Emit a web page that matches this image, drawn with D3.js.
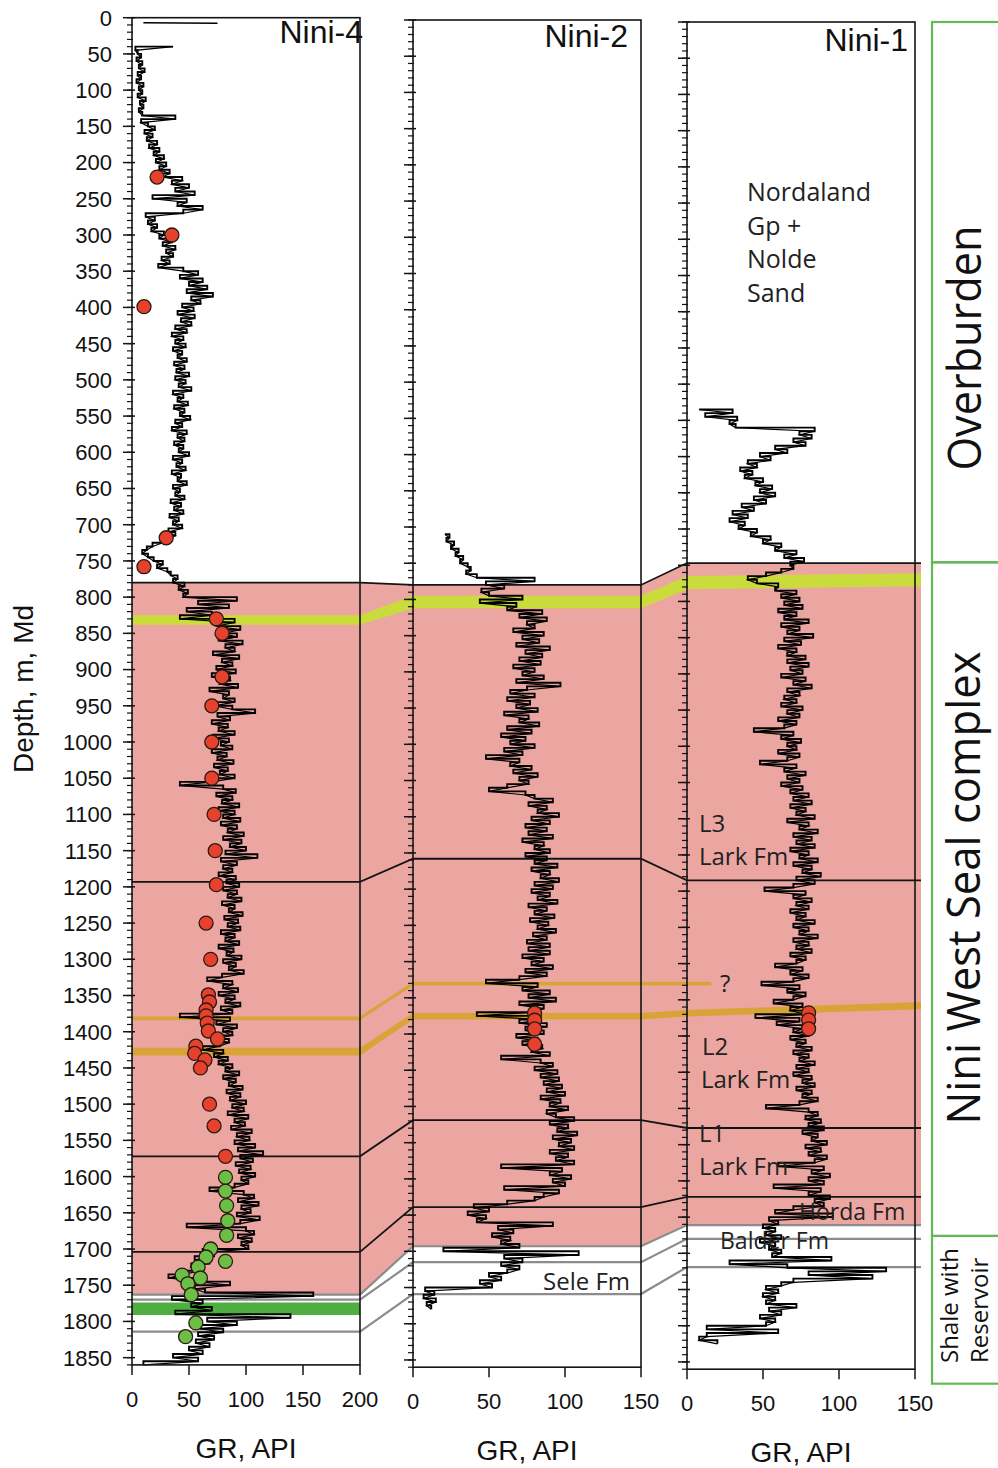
<!DOCTYPE html>
<html>
<head>
<meta charset="utf-8">
<script src="https://cdn.jsdelivr.net/npm/d3@7"></script>
<style>
  html, body { margin: 0; padding: 0; background: #ffffff; }
  svg { display: block; }
</style>
</head>
<body>
<svg id="chart" width="998" height="1468"></svg>
<script>
// ---------------- data ----------------
const wells = ["Nini-4", "Nini-2", "Nini-1"];
const grMax = [200, 150, 150];
const grTicks = [[0, 50, 100, 150, 200], [0, 50, 100, 150], [0, 50, 100, 150]];
const depthTicks = [0, 50, 100, 150, 200, 250, 300, 350, 400, 450, 500, 550, 600, 650, 700, 750,
  800, 850, 900, 950, 1000, 1050, 1100, 1150, 1200, 1250, 1300, 1350, 1400, 1450, 1500, 1550,
  1600, 1650, 1700, 1750, 1800, 1850];
const depthBottom = 1860;
const minorTickStep = 10;

// gamma-ray logs, one sample every 5 m from the first logged depth
const logStep = 5;
const nini4Start = 40;
const nini4GR = [
  36, 3, 5, 8, 4, 9, 6, 11, 5, 8, 4, 10, 6, 9, 5, 12, 7, 10, 6, 9,
  38, 8, 14, 20, 11, 18, 13, 22, 15, 24, 19, 28, 21, 30, 24, 33, 27, 44, 35, 50,
  38, 55, 18, 48, 40, 62, 45, 12, 20, 14, 22, 17, 28, 24, 35, 27, 38, 30, 36, 26,
  33, 23, 45, 58, 42, 62, 50, 66, 48, 71, 52, 60, 44, 54, 40, 55, 43, 52, 38, 48,
  35, 45, 38, 47, 36, 44, 40, 48, 37, 46, 39, 50, 38, 47, 41, 52, 36, 45, 40, 49,
  37, 46, 42, 51, 38, 44, 35, 48, 40, 46, 37, 45, 41, 50, 36, 44, 39, 47, 35, 43,
  40, 48, 36, 42, 38, 46, 34, 43, 37, 45, 33, 41, 36, 44, 32, 38, 30, 27, 18, 13,
  9, 14, 19, 27, 22, 31, 34, 40, 36, 46, 41, 49, 45, 92, 58, 85, 48, 70, 42, 90,
  74, 95, 80, 92, 76, 97, 82, 90, 71, 94, 79, 88, 74, 91, 70, 86, 77, 93, 68, 85,
  80, 90, 72, 88, 108, 75, 86, 70, 84, 76, 90, 71, 85, 78, 88, 70, 83, 75, 89, 72,
  84, 77, 90, 70, 42, 80, 91, 74, 88, 79, 94, 76, 90, 80, 95, 78, 92, 84, 98, 80,
  96, 86, 100, 82, 110, 78, 92, 80, 88, 76, 91, 83, 94, 80, 92, 84, 96, 79, 90, 85,
  97, 81, 93, 84, 95, 78, 90, 82, 94, 76, 89, 83, 96, 80, 91, 85, 98, 79, 66, 88,
  80, 93, 76, 90, 82, 95, 78, 88, 42, 86, 74, 92, 80, 88, 73, 85, 77, 62, 80, 72,
  84, 76, 88, 82, 94, 80, 91, 85, 97, 83, 95, 86, 100, 88, 98, 84, 102, 90, 99, 87,
  105, 92, 103, 90, 108, 93, 115, 95, 106, 91, 104, 94, 108, 96, 102, 90, 68, 98, 107, 93,
  111, 96, 104, 92, 112, 95, 48, 100, 107, 93, 105, 96, 102, 62, 72, 55, 68, 52, 60, 45,
  32, 58, 86, 55, 64, 159, 35, 62, 52, 70, 38, 139, 66, 92, 60, 80, 58, 72, 56, 68,
  50, 62, 36, 58, 10
];
// isolated reading near the top of Nini-4: [depth, GR]
const nini4Head = [[7, 10], [7.5, 75]];

const nini2Start = 710;
const nini2GR = [
  21, 24, 22, 27, 25, 30, 28, 33, 31, 36, 38, 35, 42, 80, 48, 60, 45, 50, 72, 44,
  68, 62, 85, 70, 88, 75, 80, 66, 86, 72, 83, 68, 90, 74, 85, 70, 84, 66, 80, 72,
  86, 68, 97, 75, 64, 80, 62, 77, 68, 82, 60, 76, 70, 83, 62, 78, 58, 74, 64, 80,
  60, 72, 48, 70, 64, 78, 66, 82, 70, 76, 62, 50, 74, 80, 92, 76, 88, 82, 96, 78,
  90, 74, 88, 76, 92, 72, 86, 80, 90, 74, 88, 80, 95, 78, 90, 84, 96, 80, 92, 78,
  90, 82, 95, 76, 88, 80, 93, 77, 89, 82, 94, 79, 88, 75, 90, 76, 90, 72, 86, 78,
  92, 74, 88, 70, 48, 82, 72, 90, 76, 94, 70, 86, 78, 42, 84, 70, 88, 74, 86, 68,
  82, 72, 85, 78, 90, 58, 84, 92, 80, 95, 84, 96, 86, 98, 88, 100, 84, 97, 90, 102,
  88, 94, 106, 90, 102, 95, 108, 92, 104, 96, 106, 90, 102, 94, 106, 58, 98, 90, 104, 92,
  100, 60, 96, 86, 80, 62, 40, 50, 36, 48, 42, 92, 56, 66, 52, 64, 58, 70, 20, 109,
  60, 72, 58, 70, 62, 50, 58, 44, 52, 8, 14, 7, 15, 9, 12
];

const nini1Start = 535;
const nini1GR = [
  8, 30, 12, 33, 28, 32, 84, 74, 82, 70, 78, 58, 66, 48, 55, 40, 46, 35, 43, 38,
  50, 45, 56, 48, 58, 44, 52, 36, 44, 30, 40, 28, 38, 34, 46, 42, 55, 50, 62, 58,
  72, 64, 77, 68, 70, 62, 52, 40, 46, 60, 58, 72, 62, 74, 64, 76, 60, 72, 64, 80,
  62, 74, 66, 83, 64, 75, 60, 72, 66, 78, 66, 80, 68, 76, 62, 78, 70, 82, 66, 74,
  64, 72, 62, 76, 66, 74, 60, 72, 64, 44, 70, 62, 75, 66, 72, 60, 74, 66, 48, 72,
  64, 78, 66, 74, 62, 76, 68, 80, 70, 82, 68, 78, 72, 84, 66, 80, 74, 86, 70, 82,
  72, 84, 68, 80, 74, 86, 70, 82, 76, 88, 72, 84, 70, 51, 78, 70, 82, 72, 80, 68,
  78, 72, 84, 70, 80, 74, 86, 70, 80, 72, 82, 68, 78, 72, 58, 76, 68, 80, 70, 49,
  74, 66, 78, 70, 57, 76, 68, 78, 45, 74, 59, 76, 70, 80, 68, 78, 72, 82, 70, 80,
  74, 84, 72, 80, 70, 82, 76, 84, 72, 82, 76, 86, 74, 52, 80, 86, 78, 88, 80, 90,
  76, 86, 82, 92, 78, 88, 80, 92, 84, 60, 90, 82, 94, 80, 90, 57, 88, 80, 94, 84,
  90, 70, 58, 96, 54, 60, 50, 58, 52, 62, 48, 58, 54, 62, 56, 95, 28, 66, 131, 80,
  122, 70, 62, 52, 60, 50, 58, 52, 72, 54, 62, 48, 58, 52, 13, 60, 13, 8, 20
];

// core sample GR readings: [depth m, GR API]
const nini4CoreRed = [[220, 22], [300, 35], [399, 10.5], [718, 30], [758, 10.5], [830, 74],
  [850, 79], [910, 79], [950, 70], [1000, 70], [1050, 70], [1100, 72], [1150, 73], [1197, 74],
  [1250, 65], [1300, 69], [1349, 67], [1359, 68], [1370, 65], [1378, 65], [1388, 66], [1399, 67],
  [1410, 75], [1420, 56], [1430, 55], [1439, 64], [1450, 60], [1500, 68], [1530, 72], [1572, 82]];
const nini4CoreGreen = [[1601, 82], [1620, 82], [1640, 83], [1661, 84], [1681, 83], [1700, 69],
  [1711, 65], [1717, 82], [1725, 58], [1736, 44], [1740, 60], [1748, 49], [1763, 52],
  [1802, 56], [1821, 47]];
const nini2CoreRed = [[1371, 80], [1381, 80], [1393, 80], [1414, 80]];
const nini1CoreRed = [[1368, 80], [1378, 80], [1390, 80]];

// correlated surfaces, depth in m for Nini-4, Nini-2, Nini-1
const topL3 = [780, 780, 747];
const topL2 = [1193, 1158, 1185];
const topL1 = [1572, 1519, 1527];
const topHorda = [1704, 1639, 1622];
const topBalder = [1763, 1693, 1661];
const topSele = [1770, 1715, 1680];
const baseSele = [1814, 1759, 1719];

// thin beds: [top, base] or [top left, base left, top right, base right]
const sandBed = [[825, 838], [795, 812], [765, 783, 761, 779]];
const upperStringer = [[1379, 1384], [1328, 1333], null];
const upperStringerEndGR = 16;
const lowerStringer = [[1422, 1433], [1371, 1380], [1364, 1373, 1353, 1363]];
const reservoirBed = [[1774, 1791], null, null];

// stratigraphic units on the right (depth on the Nini-1 scale)
const zoneNames = [["Overburden"], ["Nini West Seal complex"], ["Shale with", "Reservoir"]];
const zoneDepths = [[0, 746], [746, 1676], [1676, 1880]];

// ---------------- layout ----------------
const pxPerMetre = 0.7243;
const panels = [
  { x0: 132, x1: 360, xe: 360, top: 17.7, titleX: 363, titleY: 43 },
  { x0: 413, x1: 641, xe: 641, top: 20, titleX: 628, titleY: 47 },
  { x0: 687, x1: 915, xe: 921, top: 22, titleX: 908, titleY: 51 }
];
panels.forEach((p, i) => {
  p.y = d3.scaleLinear().domain([0, depthBottom]).range([p.top, p.top + depthBottom * pxPerMetre]);
  p.x = d3.scaleLinear().domain([0, grMax[i]]).range([p.x0, p.x1]);
  p.bottom = p.y(depthBottom);
});

const NUM_FONT = "'Liberation Sans', Arial, sans-serif";
const TXT_FONT = "'Open Sans', 'Noto Sans', sans-serif";
const COLORS = {
  seal: "#eca6a2",
  sand: "#c9dc3c",
  stringer: "#d8a438",
  reservoir: "#4fae42",
  red: "#e6412d",
  green: "#6cbf46",
  zone: "#63b957",
  black: "#141414",
  grey: "#8c8c8c"
};

const svg = d3.select("#chart");
const line = d3.line();

function surfacePoints(vals) {
  const pts = [];
  vals.forEach((v, i) => {
    if (v == null) return;
    const p = panels[i];
    const l = Array.isArray(v) ? v[0] : v;
    const r = Array.isArray(v) ? v[1] : v;
    pts.push([p.x0, p.y(l)], [p.xe, p.y(r)]);
  });
  return pts;
}

function bedPolygon(vals) {
  const top = [], base = [];
  vals.forEach((v, i) => {
    if (!v) return;
    const p = panels[i];
    const tl = v[0], bl = v[1];
    const tr = v.length > 2 ? v[2] : v[0];
    const br = v.length > 2 ? v[3] : v[1];
    top.push([p.x0, p.y(tl)], [p.xe, p.y(tr)]);
    base.push([p.x0, p.y(bl)], [p.xe, p.y(br)]);
  });
  return { top, base };
}

// ---- seal complex fill ----
{
  const top = surfacePoints(topL3);
  const base = surfacePoints(topBalder);
  svg.append("path")
    .attr("d", line(top.concat(base.slice().reverse())) + "Z")
    .attr("fill", COLORS.seal);
}

// ---- thin beds ----
function drawBed(vals, color, extendTo) {
  const { top, base } = bedPolygon(vals);
  if (extendTo != null) {
    top.push([extendTo, top[top.length - 1][1]]);
    base.push([extendTo, base[base.length - 1][1]]);
  }
  svg.append("path")
    .attr("d", line(top.concat(base.slice().reverse())) + "Z")
    .attr("fill", color);
}
drawBed(sandBed, COLORS.sand);
drawBed(upperStringer, COLORS.stringer, panels[2].x(upperStringerEndGR));
drawBed(lowerStringer, COLORS.stringer);
drawBed(reservoirBed, COLORS.reservoir);

// ---- correlation surfaces ----
[[topL3, COLORS.black, 1.8], [topL2, COLORS.black, 1.8], [topL1, COLORS.black, 1.8],
 [topHorda, COLORS.black, 1.8], [topBalder, COLORS.grey, 2.2], [topSele, COLORS.grey, 2.2],
 [baseSele, COLORS.grey, 2.2]].forEach(([vals, color, w]) => {
  svg.append("path")
    .attr("d", line(surfacePoints(vals)))
    .attr("fill", "none")
    .attr("stroke", color)
    .attr("stroke-width", w);
});

// ---- gamma-ray logs (blocky, one step per sample) ----
function logData(start, values) {
  return values.map((v, i) => ({ depth: start + i * logStep, gr: v }));
}
const logs = [logData(nini4Start, nini4GR), logData(nini2Start, nini2GR), logData(nini1Start, nini1GR)];
logs.forEach((data, i) => {
  const p = panels[i];
  svg.append("path")
    .datum(data)
    .attr("d", d3.line().curve(d3.curveStepAfter).x(d => p.x(d.gr)).y(d => p.y(d.depth)))
    .attr("fill", "none")
    .attr("stroke", "#000")
    .attr("stroke-width", 1.9);
  svg.append("path")
    .datum(data)
    .attr("d", d3.line().x(d => p.x(d.gr)).y(d => p.y(d.depth)))
    .attr("fill", "none")
    .attr("stroke", "#000")
    .attr("stroke-width", 1.2);
});
svg.append("path")
  .datum(nini4Head)
  .attr("d", d3.line().x(d => panels[0].x(d[1])).y(d => panels[0].y(d[0])))
  .attr("fill", "none")
  .attr("stroke", "#000")
  .attr("stroke-width", 1.5);

// ---- panel frames and axes ----
const minorTicks = d3.range(0, depthBottom + 1, minorTickStep);
panels.forEach((p, i) => {
  const g = svg.append("g");
  g.append("rect")
    .attr("x", p.x0).attr("y", p.top)
    .attr("width", p.x1 - p.x0).attr("height", p.bottom - p.top)
    .attr("fill", "none").attr("stroke", COLORS.black).attr("stroke-width", 1.6);

  // depth ticks on the left edge
  g.selectAll("line.minor").data(minorTicks).join("line")
    .attr("x1", p.x0 - 5).attr("x2", p.x0 + 1)
    .attr("y1", d => p.y(d)).attr("y2", d => p.y(d))
    .attr("stroke", COLORS.black).attr("stroke-width", 1.2);
  g.selectAll("line.major").data(depthTicks).join("line")
    .attr("x1", p.x0 - 9).attr("x2", p.x0 + 3)
    .attr("y1", d => p.y(d)).attr("y2", d => p.y(d))
    .attr("stroke", COLORS.black).attr("stroke-width", 1.5);

  // GR ticks on the bottom edge
  g.selectAll("line.gr").data(grTicks[i]).join("line")
    .attr("x1", d => p.x(d)).attr("x2", d => p.x(d))
    .attr("y1", p.bottom).attr("y2", p.bottom + 10)
    .attr("stroke", COLORS.black).attr("stroke-width", 1.5);
  g.selectAll("text.gr").data(grTicks[i]).join("text")
    .attr("x", d => p.x(d)).attr("y", p.bottom + 42)
    .attr("text-anchor", "middle")
    .attr("font-family", NUM_FONT).attr("font-size", 22).attr("fill", "#111")
    .text(d => d);
  g.append("text")
    .attr("x", (p.x0 + p.x1) / 2).attr("y", p.bottom + 93)
    .attr("text-anchor", "middle")
    .attr("font-family", NUM_FONT).attr("font-size", 28).attr("fill", "#111")
    .text("GR, API");

  g.append("text")
    .attr("x", p.titleX).attr("y", p.titleY)
    .attr("text-anchor", "end")
    .attr("font-family", NUM_FONT).attr("font-size", 32).attr("fill", "#111")
    .text(wells[i]);
});

// depth labels on the Nini-4 axis
svg.append("g").selectAll("text").data(depthTicks).join("text")
  .attr("x", 112).attr("y", d => panels[0].y(d))
  .attr("dy", "0.36em")
  .attr("text-anchor", "end")
  .attr("font-family", NUM_FONT).attr("font-size", 22).attr("fill", "#111")
  .text(d => d);
svg.append("text")
  .attr("transform", "translate(33,689) rotate(-90)")
  .attr("text-anchor", "middle")
  .attr("font-family", NUM_FONT).attr("font-size", 28).attr("fill", "#111")
  .text("Depth, m, Md");

// ---- core samples ----
function drawCores(data, p, color) {
  svg.append("g").selectAll("circle").data(data).join("circle")
    .attr("cx", d => p.x(d[1])).attr("cy", d => p.y(d[0]))
    .attr("r", 7)
    .attr("fill", color)
    .attr("stroke", "#2a1a12").attr("stroke-width", 1.3);
}
drawCores(nini4CoreRed, panels[0], COLORS.red);
drawCores(nini4CoreGreen, panels[0], COLORS.green);
drawCores(nini2CoreRed, panels[1], COLORS.red);
drawCores(nini1CoreRed, panels[2], COLORS.red);

// ---- formation annotations ----
const notes = [
  ["Nordaland", 747, 201, 25], ["Gp +", 747, 235, 25], ["Nolde", 747, 268, 25], ["Sand", 747, 302, 25],
  ["L3", 699, 832, 24], ["Lark Fm", 699, 865, 24],
  ["L2", 702, 1055, 24], ["Lark Fm", 701, 1088, 24],
  ["L1", 699, 1142, 24], ["Lark Fm", 699, 1175, 24],
  ["Horda Fm", 799, 1220, 23], ["Balder Fm", 720, 1249, 23],
  ["Sele Fm", 543, 1290, 24], ["?", 720, 992, 24]
];
svg.append("g").selectAll("text").data(notes).join("text")
  .attr("x", d => d[1]).attr("y", d => d[2])
  .attr("font-family", TXT_FONT).attr("font-size", d => d[3]).attr("fill", "#222")
  .text(d => d[0]);

// ---- unit brackets on the right ----
const zoneScale = panels[2].y;
const zoneG = svg.append("g");
zoneDepths.forEach(([a, b]) => {
  zoneG.append("rect")
    .attr("x", 932).attr("y", zoneScale(a))
    .attr("width", 100).attr("height", zoneScale(b) - zoneScale(a))
    .attr("fill", "none").attr("stroke", COLORS.zone).attr("stroke-width", 2.2);
});
const zoneLabelPos = [
  [{ x: 981, y: 348, anchor: "middle", size: 46, len: 245 }],
  [{ x: 980, y: 888, anchor: "middle", size: 46, len: 473 }],
  [{ x: 958, y: 1363, anchor: "start", size: 24 }, { x: 988, y: 1363, anchor: "start", size: 24 }]
];
zoneNames.forEach((lines, i) => {
  lines.forEach((t, j) => {
    const pos = zoneLabelPos[i][j];
    const txt = zoneG.append("text")
      .attr("transform", `translate(${pos.x},${pos.y}) rotate(-90)`)
      .attr("text-anchor", pos.anchor)
      .attr("font-family", TXT_FONT).attr("font-size", pos.size).attr("fill", "#111")
      .text(t);
    if (pos.len) txt.attr("textLength", pos.len).attr("lengthAdjust", "spacingAndGlyphs");
  });
});
</script>
</body>
</html>
